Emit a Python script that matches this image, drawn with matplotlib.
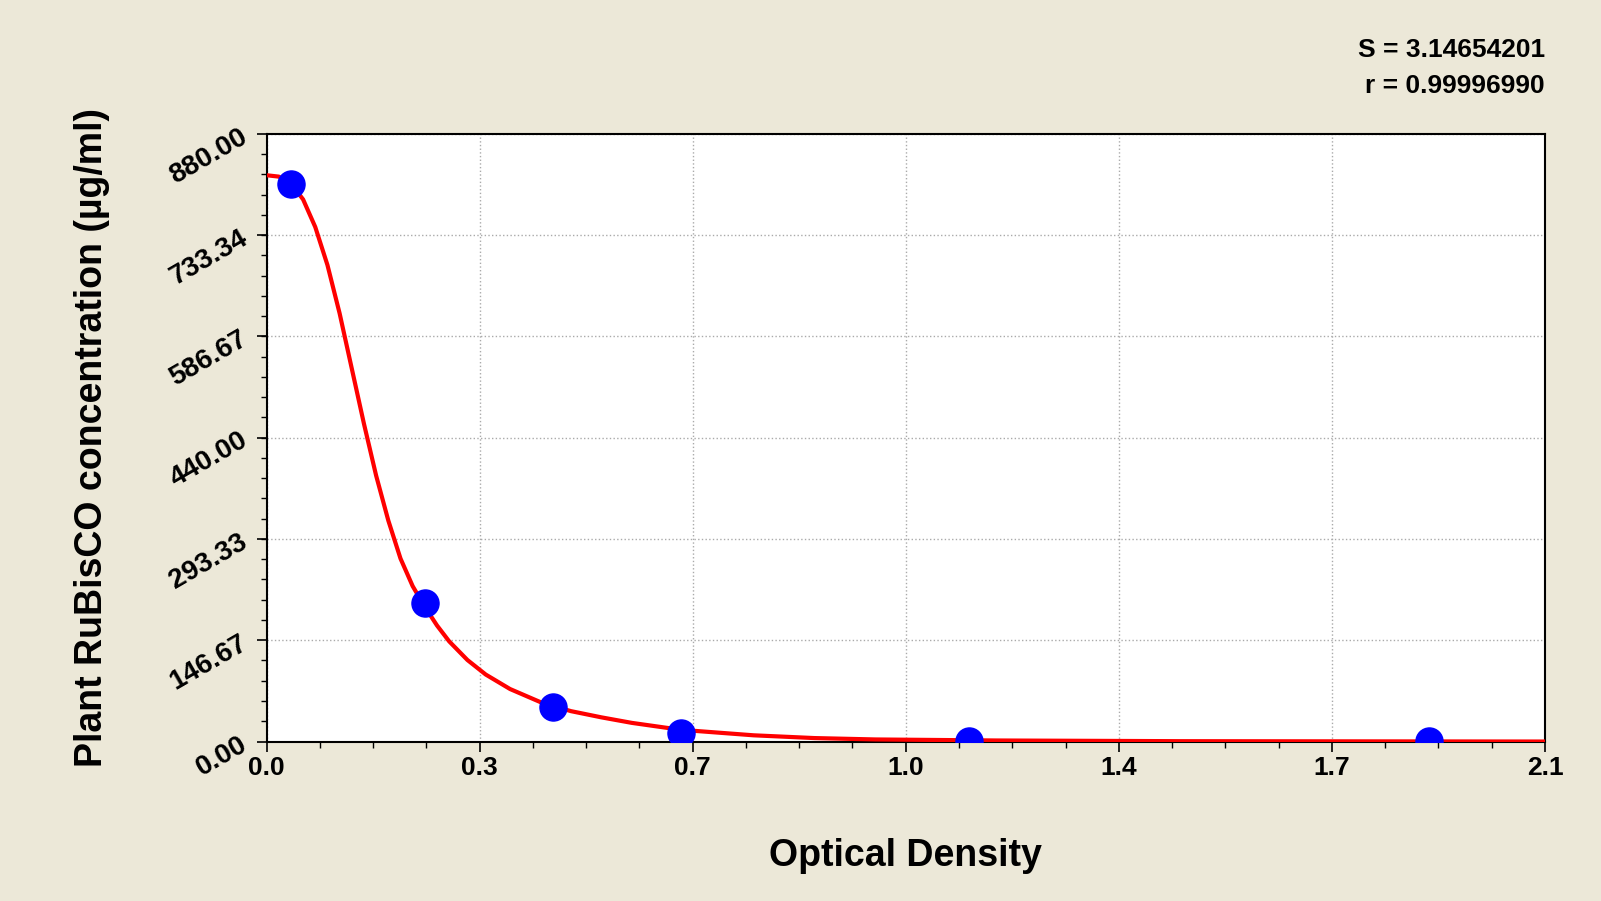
import numpy as np
import matplotlib.pyplot as plt
from matplotlib.ticker import AutoMinorLocator

plt.rcParams['font.family'] = ['Liberation Sans', 'DejaVu Sans']
plt.rcParams['font.weight'] = 'bold'

# measured standards
od_points = [0.04, 0.26, 0.47, 0.68, 1.154, 1.91]
conc_points = [808, 200, 50, 12, 1, 1]

# fitted curve
curve_x = [0.0, 0.02, 0.04, 0.06, 0.08, 0.10, 0.12, 0.14, 0.16, 0.18, 0.20, 0.22,
           0.24, 0.26, 0.28, 0.30, 0.33, 0.36, 0.40, 0.45, 0.50, 0.55, 0.60, 0.68,
           0.80, 0.90, 1.0, 1.2, 1.5, 2.1]
curve_y = [820, 818, 808, 785, 745, 690, 620, 540, 460, 385, 320, 265,
           225, 195, 168, 145, 118, 97, 76, 57, 44, 35, 27, 17,
           9, 5, 3, 1.5, 0.5, 0]

x_ticks = [0, 0.35, 0.7, 1.05, 1.4, 1.75, 2.1]
x_labels = ['0.0', '0.3', '0.7', '1.0', '1.4', '1.7', '2.1']
y_ticks = [0, 146.67, 293.33, 440.0, 586.67, 733.34, 880.0]
y_labels = ['0.00', '146.67', '293.33', '440.00', '586.67', '733.34', '880.00']

bg = '#ECE8D8'
fig = plt.figure(figsize=(16.01, 9.01), dpi=100, facecolor=bg)
ax = fig.add_axes([0.1665, 0.177, 0.7985, 0.6745])

ax.plot(curve_x, curve_y, color='red', lw=3, zorder=3)
ax.scatter(od_points, conc_points, s=380, color='blue', marker='o', zorder=4)

ax.set_xlim(0, 2.1)
ax.set_ylim(0, 880)
ax.set_xticks(x_ticks)
ax.set_xticklabels(x_labels, fontsize=19, fontweight='bold')
ax.set_yticks(y_ticks)
ax.set_yticklabels(y_labels, fontsize=20, fontweight='bold', rotation=30)
ax.xaxis.set_minor_locator(AutoMinorLocator(4))
ax.yaxis.set_minor_locator(AutoMinorLocator(5))
ax.tick_params(which='major', length=7, width=1.2)
ax.tick_params(which='minor', length=4, width=1)
ax.grid(True, color='#AAAAAA', linestyle=':', lw=1)
for s in ax.spines.values():
    s.set_linewidth(1.5)

ax.set_xlabel('Optical Density', fontsize=27, fontweight='bold', labelpad=42)
ax.set_ylabel('Plant RuBisCO concentration (µg/ml)', fontsize=27, fontweight='bold', labelpad=40)

fig.text(0.965, 0.945, 'S = 3.14654201', ha='right', va='center', fontsize=19, fontweight='bold')
fig.text(0.965, 0.905, 'r = 0.99996990', ha='right', va='center', fontsize=19, fontweight='bold')

fig.savefig('out.png', dpi=100, facecolor=bg)
